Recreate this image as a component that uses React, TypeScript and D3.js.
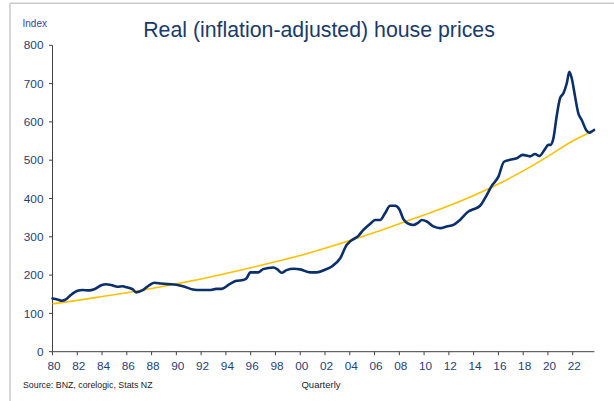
import React from "react";
import * as d3 from "d3";

const priceYears = [
  1980.0, 1980.4, 1980.76, 1981.08, 1981.48, 1982.02, 1982.43, 1982.97, 1983.37, 1983.99,
  1984.32, 1984.72, 1985.26, 1985.67, 1985.99, 1986.48, 1986.75, 1987.29, 1987.83, 1988.23,
  1988.77, 1989.31, 1990.0, 1990.53, 1991.34, 1991.98, 1992.69, 1993.22, 1993.63, 1994.3,
  1994.85, 1995.38, 1995.65, 1995.98, 1996.6, 1997.0, 1997.84, 1998.14, 1998.5, 1998.9,
  1999.46, 2000.0, 2000.8, 2001.34, 2002.0, 2002.55, 2003.23, 2003.76, 2004.03, 2004.7,
  2005.1, 2005.65, 2006.05, 2006.45, 2006.85, 2007.26, 2007.66, 2008.0, 2008.33, 2008.74,
  2009.14, 2009.54, 2009.81, 2010.22, 2010.75, 2011.29, 2011.83, 2012.37, 2012.9, 2013.58,
  2013.98, 2014.52, 2014.92, 2015.46, 2016.0, 2016.45, 2016.94, 2017.47, 2017.96, 2018.55,
  2018.95, 2019.3, 2019.76, 2020.03, 2020.2, 2020.44, 2020.7, 2020.98, 2021.25, 2021.52,
  2021.73, 2021.92, 2022.19, 2022.45, 2022.73, 2023.08, 2023.35, 2023.54, 2023.72,
];
const priceValues = [
  139, 136.5, 133, 136.5, 148, 159, 161, 160, 163, 174,
  176, 174, 169.6, 171, 168, 162.6, 155, 161, 174, 180,
  178, 176.5, 175, 171, 162.6, 161, 161, 164, 164, 176.5,
  185, 187, 191, 207, 207, 215.6, 220, 215.6, 206, 213,
  216.5, 215, 207, 207, 214, 222.6, 244, 279, 288, 302.6,
  318, 334, 344, 344, 361.7, 381, 381, 372, 346, 334,
  331, 337, 344, 340, 327, 322.6, 327, 331, 344, 366,
  372, 381, 401, 433, 457, 496, 501, 505, 514, 510,
  516, 511, 529, 540, 540, 557, 614, 662, 675, 701,
  731, 714, 666, 622.6, 605, 579, 572, 575, 579,
];

const trendYears = [
  1980, 1982, 1984, 1986, 1988, 1990, 1992, 1994, 1996, 1998, 2000, 2002,
  2004, 2006, 2008, 2010, 2012, 2014, 2016, 2018, 2020, 2022, 2023.75,
];
const trendValues = [
  125, 134, 144, 154, 165, 177, 190, 204, 219, 235, 251, 270,
  290, 311, 334, 357, 381, 408, 438, 472, 510, 550, 578,
];

const xTickYears = [
  1980, 1982, 1984, 1986, 1988, 1990, 1992, 1994, 1996, 1998, 2000,
  2002, 2004, 2006, 2008, 2010, 2012, 2014, 2016, 2018, 2020, 2022,
];
const yTicks = [0, 100, 200, 300, 400, 500, 600, 700, 800];

const TITLE = "Real (inflation-adjusted) house prices";
const Y_LABEL = "Index";
const X_LABEL = "Quarterly";
const SOURCE = "Source: BNZ, corelogic, Stats NZ";

const FONT = "'Liberation Sans', Arial, sans-serif";

export default function App() {
  const x = d3.scaleLinear().domain([1980, 2023.75]).range([52.5, 594.4]);
  const y = d3.scaleLinear().domain([0, 800]).range([351.7, 45.3]);

  const priceData = priceYears.map((yr, i) => [yr, priceValues[i]] as [number, number]);
  const trendData = trendYears.map((yr, i) => [yr, trendValues[i]] as [number, number]);

  const line = d3
    .line<[number, number]>()
    .x((d) => x(d[0]))
    .y((d) => y(d[1]))
    .curve(d3.curveMonotoneX);

  const axisColor = "#404040";
  const labelColor = "#1F4275";

  return (
    <svg
      width={614}
      height={401}
      style={{ position: "absolute", left: 0, top: 0, background: "#fff" }}
      fontFamily={FONT}
    >
      <rect x={0} y={0} width={614} height={401} fill="#fff" />
      {/* frame */}
      <line x1={10} y1={3.3} x2={614} y2={3.3} stroke="#c8c8c8" strokeWidth={1.5} />
      <line x1={10} y1={3.3} x2={10} y2={401} stroke="#c8c8c8" strokeWidth={1.5} />

      {/* title */}
      <text x={319} y={37} textAnchor="middle" fontSize={21.3} fill="#1A3A6A">
        {TITLE}
      </text>
      <text x={22.5} y={26.5} fontSize={10} fill="#3D3D9E">
        {Y_LABEL}
      </text>

      {/* y axis */}
      <line x1={x(1980)} y1={y(800)} x2={x(1980)} y2={y(0)} stroke={axisColor} strokeWidth={1} />
      {yTicks.map((t) => (
        <g key={t}>
          <line x1={x(1980) - 3.5} x2={x(1980)} y1={y(t)} y2={y(t)} stroke={axisColor} strokeWidth={1} />
          <text x={43.5} y={y(t)} dy="0.35em" textAnchor="end" fontSize={11.8} fill={labelColor}>
            {t}
          </text>
        </g>
      ))}

      {/* x axis */}
      <line x1={x(1980)} y1={y(0)} x2={x(2023.75)} y2={y(0)} stroke={axisColor} strokeWidth={1} />
      {xTickYears.map((t) => (
        <g key={t}>
          <line x1={x(t)} x2={x(t)} y1={y(0)} y2={y(0) + 3.5} stroke={axisColor} strokeWidth={1} />
          <text x={x(t) + 1.5} y={y(0) + 18} textAnchor="middle" fontSize={11.8} fill={labelColor}>
            {String(t % 100).padStart(2, "0")}
          </text>
        </g>
      ))}

      {/* trend */}
      <path d={line(trendData) || ""} fill="none" stroke="#FFC000" strokeWidth={1.6} />
      {/* series */}
      <path
        d={line(priceData) || ""}
        fill="none"
        stroke="#0B2F6B"
        strokeWidth={2.6}
        strokeLinejoin="round"
        strokeLinecap="round"
      />

      <text x={321} y={388} textAnchor="middle" fontSize={9.5} fill="#222">
        {X_LABEL}
      </text>
      <text x={23} y={388} fontSize={8.8} fill="#222">
        {SOURCE}
      </text>
    </svg>
  );
}
